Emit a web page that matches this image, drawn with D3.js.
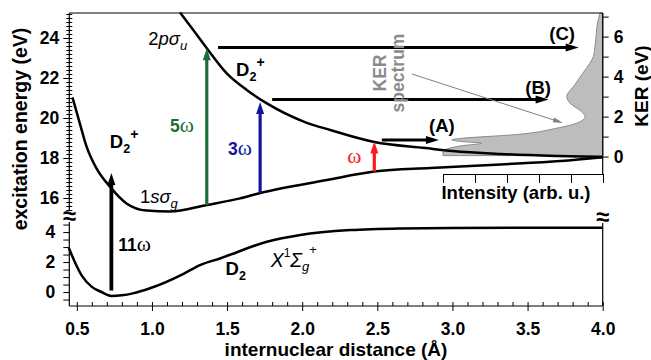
<!DOCTYPE html>
<html>
<head>
<meta charset="utf-8">
<script src="https://cdn.jsdelivr.net/npm/d3@7"></script>
<style>
  body { margin: 0; background: #fff; }
  svg text { font-family: "Liberation Sans", Arial, Helvetica, sans-serif; }
</style>
</head>
<body>
<svg id="chart" width="651" height="360"></svg>
<script>
// ---- data ----
// D2 ground state X1Sg+ (lower panel, eV)
var groundR = [0.447, 0.531, 0.598, 0.66, 0.731, 0.80, 0.873, 0.987, 1.207, 1.32, 1.453, 1.765, 1.987, 2.32, 2.65, 3.0, 3.5, 4.0];
var groundE = [2.93, 1.13, 0.36, 0.02, -0.27, -0.22, -0.09, 0.25, 1.2, 1.8, 2.24, 3.35, 3.8, 4.13, 4.24, 4.27, 4.29, 4.29];

// D2+ 1s sigma_g (upper panel)
var sgR = [0.471, 0.52, 0.565, 0.631, 0.72, 0.831, 0.965, 1.12, 1.365, 1.587, 1.72, 2.165, 2.48, 2.853, 3.32, 3.72, 4.0];
var sgE = [21.03, 19.73, 18.57, 17.48, 16.57, 15.73, 15.37, 15.32, 15.65, 15.98, 16.25, 16.9, 17.32, 17.5, 17.68, 17.85, 18.04];

// D2+ 2p sigma_u (upper panel)
var suR = [1.187, 1.28, 1.365, 1.498, 1.631, 1.765, 2.01, 2.187, 2.48, 2.82, 3.0, 3.32, 3.7, 4.0];
var suE = [25.27, 24.35, 23.49, 22.23, 21.4, 20.73, 19.82, 19.4, 18.8, 18.5, 18.35, 18.2, 18.1, 18.05];

// KER spectrum (KER in eV, intensity in arb. u.)
var kerE = [0.05, 0.23, 0.34, 0.55, 0.67, 0.75, 0.84, 0.92, 1.09, 1.42, 1.67, 2.0, 2.25, 2.67, 3.0, 3.59, 4.17, 4.67, 5.0, 5.5, 6.84, 7.18];
var kerI = [5.0, 5.0, 4.94, 4.37, 3.79, 4.38, 4.73, 4.37, 2.8, 1.45, 0.82, 0.56, 0.67, 1.03, 1.13, 0.88, 0.63, 0.41, 0.30, 0.25, 0.15, 0.09];

// photon absorption arrows: 11w, 5w, 3w, w
var photonText = ['11', '5', '3', ''];
var photonR = [0.73, 1.365, 1.72, 2.48];
var photonFrom = [0.1, 15.65, 16.25, 17.32];
var photonTo = [17.25, 23.49, 20.8, 18.82];
var photonColor = ['#000000', '#1b6e3c', '#1414a0', '#ff1a1a'];

// dissociation arrows (A), (B), (C)
var kerArrowName = ['(A)', '(B)', '(C)'];
var kerArrowE = [18.9, 20.93, 23.52];
var kerArrowR0 = [2.53, 1.80, 1.44];
var kerArrowR1 = [2.91, 3.64, 3.84];

// ---- scales ----
var svg = d3.select('#chart');
var x = d3.scaleLinear().domain([0.45, 4.0]).range([69.3, 602.7]);
var yHi = d3.scaleLinear().domain([15.15, 25.25]).range([215, 13]);
var yLo = d3.scaleLinear().domain([-0.93, 5.07]).range([306, 216]);
var yKer = d3.scaleLinear().domain([0, 7.18]).range([156.6, 13]);
var xInt = d3.scaleLinear().domain([0, 5]).range([603, 443]);

var bold = 'bold 17.5px "Liberation Sans", Arial, sans-serif';

// ---- KER spectrum (drawn first, under everything) ----
var spec = kerE.map(function (k, i) { return { k: k, i: kerI[i] }; });
svg.append('path')
  .datum(spec)
  .attr('d', d3.area()
    .y(function (d) { return yKer(d.k); })
    .x0(xInt(0))
    .x1(function (d) { return xInt(d.i); })
    .curve(d3.curveMonotoneY))
  .attr('fill', '#bdbdbd')
  .attr('stroke', '#8a8a8a')
  .attr('stroke-width', 1);

// ---- axes ----
var L = x.range()[0], R = x.range()[1];

// upper left axis (excitation energy, D2+ region)
var hiTicks = d3.range(77, 127).map(function (i) { return i / 5; });
var axHi = svg.append('g')
  .attr('transform', 'translate(' + L + ',0)')
  .call(d3.axisLeft(yHi).tickValues(hiTicks).tickSize(3)
    .tickFormat(function (d) { return d % 2 === 0 ? d : ''; }));
axHi.select('.domain').remove();
axHi.selectAll('.tick line')
  .attr('x1', 3)
  .attr('x2', function (d) { return d % 2 === 0 ? -6 : -3; });
axHi.selectAll('.tick text').attr('x', -10).style('font', bold);

// lower left axis (D2 region)
var loTicks = d3.range(-1, 10).map(function (i) { return i / 2; });
var axLo = svg.append('g')
  .attr('transform', 'translate(' + L + ',0)')
  .call(d3.axisLeft(yLo).tickValues(loTicks).tickSize(6)
    .tickFormat(function (d) { return d % 2 === 0 ? d : ''; }));
axLo.select('.domain').remove();
axLo.selectAll('.tick text').attr('x', -14).style('font', bold);

// bottom axis
var xTicks = d3.range(5, 41).map(function (i) { return i / 10; });
var axX = svg.append('g')
  .attr('transform', 'translate(0,' + yLo.range()[0] + ')')
  .call(d3.axisBottom(x).tickValues(xTicks).tickSize(4)
    .tickFormat(function (d) { return Math.round(d * 10) % 5 === 0 ? d3.format('.1f')(d) : ''; }));
axX.select('.domain').remove();
axX.selectAll('.tick line')
  .attr('y1', function (d) { return Math.round(d * 10) % 5 === 0 ? 5 : 0; })
  .attr('y2', -4);
axX.selectAll('.tick text').attr('y', 29).attr('dy', 0).style('font', bold);

// right axis (KER)
var axK = svg.append('g')
  .attr('transform', 'translate(' + R + ',0)')
  .call(d3.axisRight(yKer).tickValues(d3.range(0, 8)).tickSize(6)
    .tickFormat(function (d) { return d % 2 === 0 ? d : ''; }));
axK.select('.domain').remove();
axK.selectAll('.tick text').attr('x', 11).style('font', bold);

// intensity axis of the spectrum
svg.append('g')
  .attr('transform', 'translate(0,174)')
  .call(d3.axisBottom(xInt).tickValues(d3.range(0, 6)).tickSizeOuter(0).tickSize(9).tickFormat(''));

// frame lines with the axis break
var frame = svg.append('g').attr('stroke', '#000').attr('stroke-width', 1.2);
frame.append('line').attr('x1', L).attr('x2', R).attr('y1', 13).attr('y2', 13);
frame.append('line').attr('x1', L).attr('x2', R).attr('y1', 306).attr('y2', 306);
frame.append('line').attr('x1', L).attr('x2', L).attr('y1', 13).attr('y2', 210);
frame.append('line').attr('x1', L).attr('x2', L).attr('y1', 222).attr('y2', 306);
frame.append('line').attr('x1', R).attr('x2', R).attr('y1', 13).attr('y2', 174);
frame.append('line').attr('x1', R).attr('x2', R).attr('y1', 223).attr('y2', 306);
svg.selectAll('.brk').data([[L, 216], [R, 217]]).enter().append('text')
  .attr('x', function (d) { return d[0]; })
  .attr('y', function (d) { return d[1] + 8; })
  .attr('text-anchor', 'middle')
  .style('font', 'bold 24px "Liberation Sans", Arial, sans-serif')
  .text('\u2248');

// ---- potential curves ----
function curve(rs, es, ys) {
  svg.append('path')
    .datum(rs.map(function (r, i) { return [r, es[i]]; }))
    .attr('d', d3.line()
      .x(function (d) { return x(d[0]); })
      .y(function (d) { return ys(d[1]); })
      .curve(d3.curveMonotoneX))
    .attr('fill', 'none')
    .attr('stroke', '#000')
    .attr('stroke-width', 2.5);
}
curve(groundR, groundE, yLo);
curve(sgR, sgE, yHi);
curve(suR, suE, yHi);

// ---- arrows ----
function arrow(x1, y1, x2, y2, color, w, hl, hw) {
  var dx = x2 - x1, dy = y2 - y1, len = Math.sqrt(dx * dx + dy * dy);
  var ux = dx / len, uy = dy / len;
  var bx = x2 - ux * hl, by = y2 - uy * hl;
  svg.append('line')
    .attr('x1', x1).attr('y1', y1)
    .attr('x2', bx + ux).attr('y2', by + uy)
    .attr('stroke', color).attr('stroke-width', w);
  svg.append('path')
    .attr('d', 'M' + x2 + ',' + y2 +
      'L' + (bx - uy * hw / 2) + ',' + (by + ux * hw / 2) +
      'L' + (bx + uy * hw / 2) + ',' + (by - ux * hw / 2) + 'Z')
    .attr('fill', color);
}

photonR.forEach(function (r, i) {
  var y0 = i === 0 ? yLo(photonFrom[i]) : yHi(photonFrom[i]);
  arrow(x(r), y0, x(r), yHi(photonTo[i]), photonColor[i], i === 0 ? 3.8 : 3.2, 12, 8);
});

kerArrowE.forEach(function (e, i) {
  arrow(x(kerArrowR0[i]), yHi(e), x(kerArrowR1[i]), yHi(e), '#000', 3, 13, 8);
});

// thin grey pointer from the "KER spectrum" note to the spectrum
arrow(x(2.73), yHi(22.2), xInt(1.25), yKer(1.68), '#808080', 1, 10, 5);

// ---- labels ----
function rich(px, py, parts, opt) {
  opt = opt || {};
  var t = svg.append('text')
    .attr('x', px).attr('y', py)
    .attr('fill', opt.fill || '#000')
    .attr('text-anchor', opt.anchor || 'start');
  if (opt.rotate) t.attr('transform', 'rotate(-90,' + px + ',' + py + ')');
  var shift = 0;
  parts.forEach(function (p) {
    var s = t.append('tspan')
      .text(p.t)
      .style('font-size', (p.size || 17) + 'px')
      .style('font-weight', p.w || 'bold')
      .style('font-style', p.i ? 'italic' : 'normal');
    if (p.f) s.style('font-family', p.f);
    var d = (p.dy || 0) - shift;
    if (d !== 0) s.attr('dy', d);
    shift = p.dy || 0;
  });
  return t;
}

var serif = '"Liberation Serif", "Times New Roman", serif';

// D2+ labels and D2
rich(x(0.72), yHi(18.5), [{ t: 'D', size: 18.5 }, { t: '2', size: 12.5, dy: 5 }, { t: '+', size: 14, dy: -9 }]);
rich(x(1.56), yHi(22.1), [{ t: 'D', size: 18.5 }, { t: '2', size: 12.5, dy: 5 }, { t: '+', size: 14, dy: -9 }]);
rich(x(1.49), yLo(1.13), [{ t: 'D', size: 18.5 }, { t: '2', size: 12.5, dy: 5 }]);

// state names
rich(x(0.975), yHi(23.65), [{ t: '2', size: 18.5, w: 'normal' }, { t: 'p', size: 18.5, w: 'normal', i: true },
  { t: '\u03c3', size: 18.5, w: 'normal', i: true }, { t: 'u', size: 13, w: 'normal', i: true, dy: 5 }]);
rich(x(0.92), yHi(15.75), [{ t: '1', size: 18.5, w: 'normal' }, { t: 's', size: 18.5, w: 'normal', i: true },
  { t: '\u03c3', size: 18.5, w: 'normal', i: true }, { t: 'g', size: 13, w: 'normal', i: true, dy: 5 }]);
rich(x(1.79), yLo(1.67), [{ t: 'X', size: 19.5, w: 'normal', i: true }, { t: '1', size: 12, w: 'normal', dy: -10 },
  { t: '\u03a3', size: 19.5, w: 'normal', i: true }, { t: 'g', size: 13, w: 'normal', i: true, dy: 4 },
  { t: '+', size: 13, w: 'normal', dy: -13 }]);

// photon labels
var photonLabelR = [0.775, 1.12, 1.506, 2.30];
var photonLabelE = [2.73, 19.3, 18.15, 17.75];
photonText.forEach(function (n, i) {
  var py = i === 0 ? yLo(photonLabelE[i]) : yHi(photonLabelE[i]);
  rich(x(photonLabelR[i]), py, [{ t: n, size: 17.5 }, { t: '\u03c9', size: 21.5, w: 'normal', f: serif }],
    { fill: photonColor[i] });
});

// (A) (B) (C)
var kerLabelR = [2.93, 3.57, 3.73];
var kerLabelE = [19.3, 21.2, 23.9];
kerArrowName.forEach(function (n, i) {
  rich(x(kerLabelR[i]), yHi(kerLabelE[i]), [{ t: n, size: 18.5 }], { anchor: 'middle' });
});

// KER spectrum note
rich(386, yHi(22.25), [{ t: 'KER', size: 17.5 }], { rotate: true, anchor: 'middle', fill: '#8a8a8a' });
rich(404, yHi(22.25), [{ t: 'spectrum', size: 17.5 }], { rotate: true, anchor: 'middle', fill: '#8a8a8a' });

// axis titles
rich(516, 199, [{ t: 'Intensity (arb. u.)', size: 18.5 }], { anchor: 'middle' });
rich(336, 356, [{ t: 'internuclear distance (\u00c5)', size: 19 }], { anchor: 'middle' });
rich(27, 129, [{ t: 'excitation energy (eV)', size: 19.5 }], { anchor: 'middle', rotate: true });
rich(648, 86, [{ t: 'KER (eV)', size: 19 }], { anchor: 'middle', rotate: true });
</script>
</body>
</html>
